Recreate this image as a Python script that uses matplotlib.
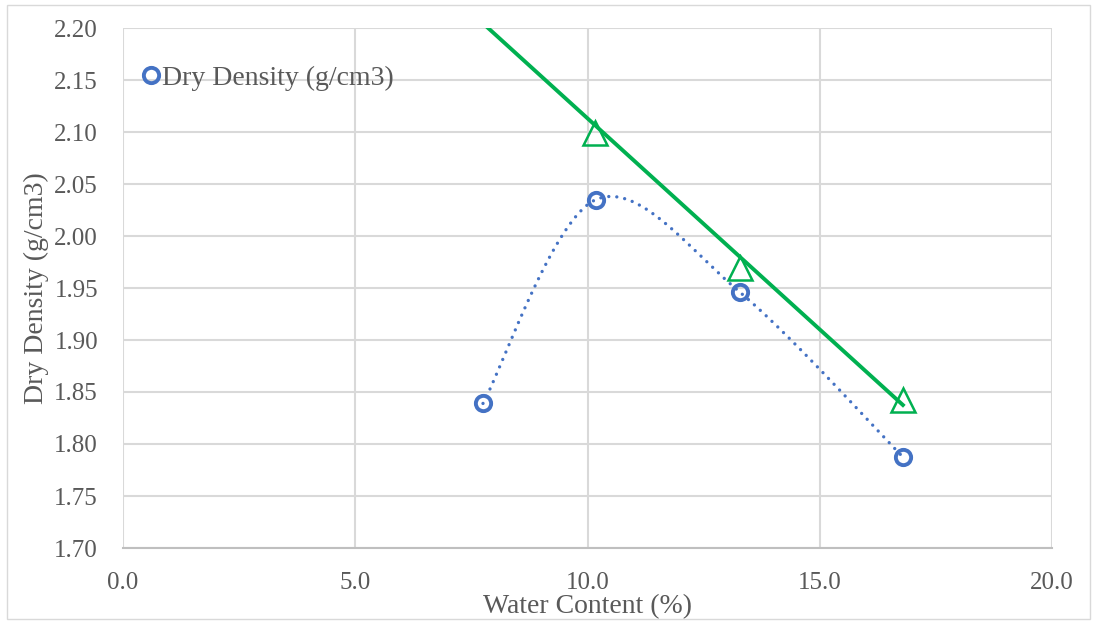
import numpy as np
import matplotlib.pyplot as plt
from matplotlib.patches import Rectangle

# compaction test points
water = [7.75, 10.18, 13.28, 16.79]
dry_density = [1.839, 2.035, 1.946, 1.7875]

# zero air voids points (triangles) and line
zav_x = [10.16, 13.28, 16.79]
zav_y = [2.099, 1.969, 1.842]
zav_line_x = [7.86, 16.79]
zav_line_y = [2.20, 1.8375]

x_ticks = [0, 5, 10, 15, 20]
y_ticks = [1.70, 1.75, 1.80, 1.85, 1.90, 1.95, 2.00, 2.05, 2.10, 2.15, 2.20]

BLUE = '#4472C4'
GREEN = '#00B050'
GREY = '#595959'

plt.rcParams['font.family'] = ['Liberation Serif', 'DejaVu Serif']

fig = plt.figure(figsize=(10.93, 6.21), dpi=100)
ax = fig.add_axes([123 / 1093, 1 - 548 / 621, (1052 - 123) / 1093, (548 - 28) / 621])

# Excel-style smoothed line: cardinal bezier in screen-like units
sx, sy = 46.45, 1040.0
P = np.column_stack([np.array(water) * sx, np.array(dry_density) * sy])
Pe = np.vstack([P[0], P, P[-1]])
curve = []
t = np.linspace(0, 1, 60)[:, None]
for i in range(1, len(Pe) - 2):
    p0, p1, p2, p3 = Pe[i - 1], Pe[i], Pe[i + 1], Pe[i + 2]
    c1 = p1 + (p2 - p0) / 6
    c2 = p2 - (p3 - p1) / 6
    seg = ((1 - t) ** 3) * p1 + 3 * ((1 - t) ** 2) * t * c1 + 3 * (1 - t) * t ** 2 * c2 + t ** 3 * p2
    curve.append(seg)
curve = np.vstack(curve)
ax.plot(curve[:, 0] / sx, curve[:, 1] / sy, color=BLUE, lw=2.4,
        linestyle=(0, (0.01, 2.4)), dash_capstyle='round', zorder=3)

ax.plot(water, dry_density, 'o', ms=11, mfc='none', mec=BLUE, mew=2.8,
        label='Dry Density (g/cm3)', zorder=4)

ax.plot(zav_line_x, zav_line_y, color=GREEN, lw=2.8, zorder=3)
ax.plot(zav_x, zav_y, '^', ms=17, mfc='none', mec=GREEN, mew=1.8, zorder=4)

ax.set_xlim(0, 20)
ax.set_ylim(1.70, 2.20)
ax.set_xticks(x_ticks)
ax.set_yticks(y_ticks)
ax.set_xticklabels([f'{v:.1f}' for v in x_ticks])
ax.set_yticklabels([f'{v:.2f}' for v in y_ticks])
ax.grid(True, color='#d9d9d9', lw=1.5)
ax.set_axisbelow(True)
for s in ['top', 'right', 'left']:
    ax.spines[s].set_visible(False)
ax.spines['bottom'].set_color('#bfbfbf')
ax.spines['bottom'].set_linewidth(1.5)
ax.tick_params(axis='both', length=0, labelsize=18, colors=GREY)
ax.tick_params(axis='y', pad=18)
ax.tick_params(axis='x', pad=17)

ax.set_xlabel('Water Content (%)', fontsize=20, color=GREY, labelpad=0)
ax.set_ylabel('Dry Density (g/cm3)', fontsize=20, color=GREY, labelpad=4)

ax.legend(loc='upper left', bbox_to_anchor=(0.0, 0.965), frameon=False,
          fontsize=20, handlelength=0.6, handletextpad=0.1, borderaxespad=0.3,
          labelcolor=GREY)

fig.patches.append(Rectangle((7 / 1093, 2 / 621), 1083 / 1093, 614 / 621,
                             transform=fig.transFigure, fill=False,
                             edgecolor='#d9d9d9', lw=1))

fig.savefig('out.png', dpi=100)
